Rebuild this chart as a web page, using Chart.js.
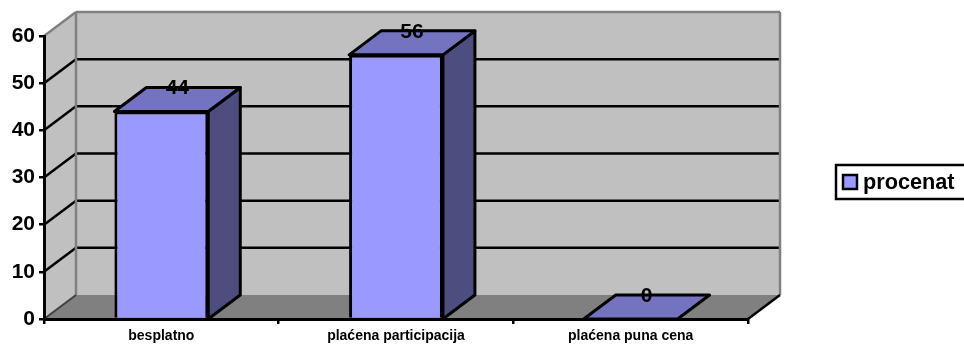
<!DOCTYPE html>
<html>
<head>
<meta charset="utf-8">
<style>
  html, body { margin: 0; padding: 0; background: #fff; }
  canvas { display: block; }
</style>
<script src="https://cdn.jsdelivr.net/npm/chart.js@4/dist/chart.umd.min.js"></script>
</head>
<body>
<canvas id="chart" width="964" height="345"></canvas>
<script>
const categories = ["besplatno", "plaćena participacija", "plaćena puna cena"];
const procenat = [44, 56, 0];
const seriesName = "procenat";
const yTicks = [0, 10, 20, 30, 40, 50, 60];

// 3d look: how far the back wall sits from the front plane
const depthX = 32;
const depthY = 24;
const lineW = 3;
const fontName = "'Liberation Sans', Arial, sans-serif";

function poly(ctx, pts, fill, stroke) {
  ctx.beginPath();
  pts.forEach((p, i) => i ? ctx.lineTo(p[0], p[1]) : ctx.moveTo(p[0], p[1]));
  ctx.closePath();
  if (fill) { ctx.fillStyle = fill; ctx.fill(); }
  if (stroke) { ctx.strokeStyle = stroke; ctx.lineWidth = lineW; ctx.stroke(); }
}

function line(ctx, x1, y1, x2, y2, color, w) {
  ctx.beginPath();
  ctx.moveTo(x1, y1);
  ctx.lineTo(x2, y2);
  ctx.strokeStyle = color;
  ctx.lineWidth = w;
  ctx.stroke();
}

const walls = {
  id: "walls",
  beforeDraw(chart) {
    const { ctx, chartArea: a, scales: { y } } = chart;
    const y0 = y.getPixelForValue(0);
    const yTop = y.getPixelForValue(60);
    const bl = a.left + depthX;
    const br = a.right + depthX;
    ctx.save();
    ctx.lineJoin = "round";
    poly(ctx, [[a.left, yTop], [bl, yTop - depthY], [bl, y0 - depthY], [a.left, y0]], "#C0C0C0");
    poly(ctx, [[bl, yTop - depthY], [br, yTop - depthY], [br, y0 - depthY], [bl, y0 - depthY]], "#C0C0C0");
    poly(ctx, [[a.left, y0], [bl, y0 - depthY], [br, y0 - depthY], [a.right, y0]], "#808080");

    yTicks.slice(1, -1).forEach(t => {
      const py = y.getPixelForValue(t);
      line(ctx, a.left, py, bl, py - depthY, "#000", 2.5);
      line(ctx, bl, py - depthY, br, py - depthY, "#000", 2.5);
    });

    line(ctx, a.left, yTop, bl, yTop - depthY, "#808080", 2.5);
    line(ctx, bl, yTop - depthY, br, yTop - depthY, "#808080", 2.5);
    line(ctx, bl, yTop - depthY, bl, y0 - depthY, "#808080", 2.5);
    line(ctx, br, yTop - depthY, br, y0 - depthY, "#808080", 2.5);
    line(ctx, a.left, y0, bl, y0 - depthY, "#404040", 2);
    line(ctx, a.right, y0, br, y0 - depthY, "#000", 2.5);
    ctx.restore();
  }
};

const bars3d = {
  id: "bars3d",
  beforeDatasetsDraw(chart) {
    const { ctx, scales: { y } } = chart;
    const y0 = y.getPixelForValue(0);
    ctx.save();
    ctx.lineJoin = "round";
    chart.getDatasetMeta(0).data.forEach(bar => {
      const l = bar.x - bar.width / 2;
      const r = bar.x + bar.width / 2;
      if (bar.y < y0) {
        poly(ctx, [[r, bar.y], [r + depthX, bar.y - depthY], [r + depthX, y0 - depthY], [r, y0]], "#4D4D80", "#000");
      }
      poly(ctx, [[l, bar.y], [l + depthX, bar.y - depthY], [r + depthX, bar.y - depthY], [r, bar.y]], "#7373BF", "#000");
    });
    ctx.restore();
  },
  afterDatasetsDraw(chart) {
    const { ctx } = chart;
    ctx.save();
    ctx.fillStyle = "#000";
    ctx.font = "bold 21px " + fontName;
    ctx.textAlign = "center";
    ctx.textBaseline = "middle";
    chart.getDatasetMeta(0).data.forEach((bar, i) => {
      ctx.fillText(procenat[i], bar.x + depthX / 2, bar.y - depthY + 1);
    });
    ctx.restore();
  }
};

const legendBox = {
  id: "legendBox",
  afterDraw(chart) {
    const { ctx } = chart;
    ctx.save();
    ctx.fillStyle = "#fff";
    ctx.fillRect(836, 165, 130, 34);
    ctx.strokeStyle = "#000";
    ctx.lineWidth = 2.5;
    ctx.strokeRect(836, 165, 130, 34);
    ctx.fillStyle = chart.data.datasets[0].backgroundColor;
    ctx.fillRect(843, 175, 14, 14);
    ctx.strokeRect(843, 175, 14, 14);
    ctx.fillStyle = "#000";
    ctx.font = "bold 21.7px " + fontName;
    ctx.textBaseline = "middle";
    ctx.fillText(chart.data.datasets[0].label, 863, 183);
    ctx.restore();
  }
};

new Chart(document.getElementById("chart"), {
  type: "bar",
  data: {
    labels: categories,
    datasets: [{
      label: seriesName,
      data: procenat,
      backgroundColor: "#9999FF",
      borderColor: "#000",
      borderWidth: lineW,
      categoryPercentage: 1,
      barPercentage: 0.4,
      clip: false
    }]
  },
  options: {
    responsive: false,
    animation: false,
    layout: { padding: { left: 0, right: 216, top: 36, bottom: 0 } },
    plugins: { legend: { display: false }, tooltip: { enabled: false } },
    scales: {
      x: {
        afterFit(scale) { scale.height = 26; },
        border: { color: "#000", width: lineW },
        grid: { drawOnChartArea: false, drawTicks: true, tickLength: 5, color: "#000", lineWidth: 2.5 },
        ticks: {
          color: "#000",
          padding: 4,
          maxRotation: 0,
          font: { family: fontName, size: 14, weight: "bold" }
        }
      },
      y: {
        min: 0,
        max: 60,
        afterFit(scale) { scale.width = 44; },
        afterBuildTicks(scale) { scale.ticks = yTicks.map(v => ({ value: v })); },
        border: { color: "#000", width: lineW },
        grid: { drawOnChartArea: false, drawTicks: true, tickLength: 5, color: "#000", lineWidth: 2.5 },
        ticks: {
          color: "#000",
          padding: 4,
          font: { family: fontName, size: 21, weight: "bold" }
        }
      }
    }
  },
  plugins: [walls, bars3d, legendBox]
});
</script>
</body>
</html>
